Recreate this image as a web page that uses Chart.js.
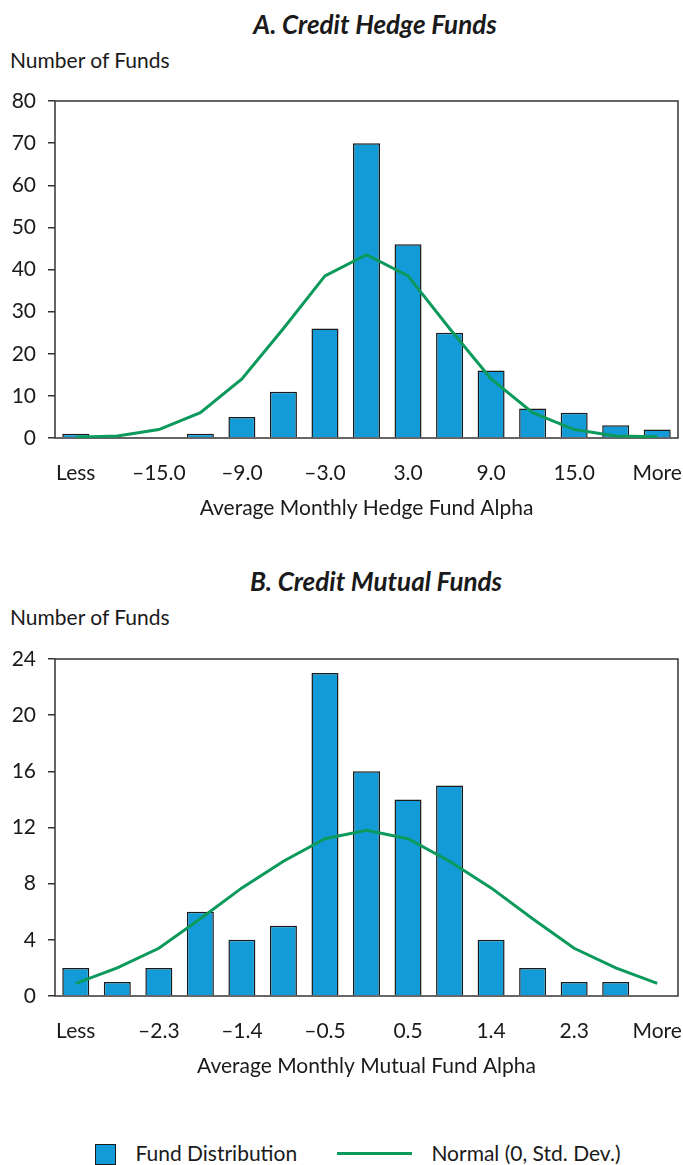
<!DOCTYPE html>
<html>
<head>
<meta charset="utf-8">
<script src="https://cdn.jsdelivr.net/npm/chart.js@4"></script>
<style>
  body { margin: 0; background: #fff; font-family: Lato, sans-serif; color: #1a1a1a; }
  #page { position: relative; width: 683px; height: 1165px; }
  .title { position: absolute; font-size: 26px; font-weight: bold; font-style: italic; transform: translateX(-50%); white-space: nowrap; }
  .ylab { position: absolute; left: 10px; font-size: 21px; white-space: nowrap; }
  canvas { position: absolute; left: 0; }
  .legend { position: absolute; top: 1140px; font-size: 21px; white-space: nowrap; }
</style>
</head>
<body>
<div id="page">
  <div class="title" style="left:375px; top:8px;">A. Credit Hedge Funds</div>
  <div class="ylab" style="top:47px;">Number of Funds</div>
  <canvas id="chartA" width="683" height="450" style="top:80px;"></canvas>

  <div class="title" style="left:376px; top:565px;">B. Credit Mutual Funds</div>
  <div class="ylab" style="top:604px;">Number of Funds</div>
  <canvas id="chartB" width="683" height="450" style="top:638px;"></canvas>

  <div class="legend" style="left:95px;">
    <span style="display:inline-block; width:19px; height:19px; background:#129bd6; border:1.5px solid #1a1a1a; vertical-align:-4px;"></span>
    <span style="margin-left:14px;">Fund Distribution</span>
  </div>
  <div class="legend" style="left:337px;">
    <span style="display:inline-block; width:75px; height:3px; background:#0c9a5c; vertical-align:6px;"></span>
    <span style="margin-left:14px;">Normal (0, Std. Dev.)</span>
  </div>
</div>

<script>
// panel A - credit hedge funds
let hedgeLabels = ["Less", "–18.0", "–15.0", "–12.0", "–9.0", "–6.0", "–3.0", "0.0", "3.0", "6.0", "9.0", "12.0", "15.0", "18.0", "More"];
let hedgeCounts = [1, 0, 0, 1, 5, 11, 26, 70, 46, 25, 16, 7, 6, 3, 2];
let hedgeNormal = [0.2, 0.5, 2, 6, 14, 26, 38.5, 43.5, 38.5, 26, 14, 6, 2, 0.5, 0.3];

// panel B - credit mutual funds
let mutualLabels = ["Less", "–2.8", "–2.3", "–1.8", "–1.4", "–0.9", "–0.5", "0.0", "0.5", "0.9", "1.4", "1.8", "2.3", "2.8", "More"];
let mutualCounts = [2, 1, 2, 6, 4, 5, 23, 16, 14, 15, 4, 2, 1, 1, 0];
let mutualNormal = [0.9, 2.0, 3.4, 5.5, 7.7, 9.6, 11.2, 11.8, 11.2, 9.6, 7.7, 5.5, 3.4, 2.0, 0.9];

let barColor = '#129bd6';
let lineColor = '#0c9a5c';
let inkColor = '#1a1a1a';

Chart.defaults.font.family = 'Lato';
Chart.defaults.font.size = 21;
Chart.defaults.color = inkColor;

// box around the plot area
let framePlugin = {
    id: 'frame',
    beforeDatasetsDraw: function (chart) {
        let a = chart.chartArea;
        let ctx = chart.ctx;
        ctx.save();
        ctx.strokeStyle = '#333';
        ctx.lineWidth = 1.5;
        ctx.strokeRect(a.left, a.top, a.right - a.left, a.bottom - a.top);
        ctx.restore();
    }
};

function makeChart(id, labels, counts, normal, maxY, step, axisTitle) {
    return new Chart(document.getElementById(id), {
        type: 'bar',
        data: {
            labels: labels,
            datasets: [{
                type: 'line',
                label: 'Normal (0, Std. Dev.)',
                data: normal,
                borderColor: lineColor,
                borderWidth: 3,
                pointRadius: 0,
                tension: 0,
                order: 0
            }, {
                label: 'Fund Distribution',
                data: counts,
                backgroundColor: barColor,
                borderColor: inkColor,
                borderWidth: 1.5,
                barPercentage: 0.65,
                categoryPercentage: 1,
                order: 1
            }]
        },
        options: {
            responsive: false,
            animation: false,
            layout: { padding: { top: 21, right: 5, left: 0, bottom: 0 } },
            plugins: { legend: { display: false }, tooltip: { enabled: false } },
            scales: {
                x: {
                    grid: { display: false, drawTicks: false },
                    border: { display: false },
                    ticks: {
                        autoSkip: false,
                        maxRotation: 0,
                        padding: 23,
                        callback: function (v, i) {
                            return i % 2 === 0 ? this.getLabelForValue(v) : '';
                        }
                    },
                    title: { display: true, text: axisTitle, padding: { top: 0, bottom: 9 } },
                    afterFit: function (scale) {
                        scale.height = 92;
                        scale.paddingLeft = 0;
                        scale.paddingRight = 0;
                    }
                },
                y: {
                    min: 0,
                    max: maxY,
                    ticks: { stepSize: step, padding: 12 },
                    grid: { drawOnChartArea: false, tickLength: 7, color: '#333', lineWidth: 1.5 },
                    border: { display: false },
                    afterFit: function (scale) {
                        scale.width = 55;
                        scale.paddingTop = 0;
                        scale.paddingBottom = 0;
                    }
                }
            }
        },
        plugins: [framePlugin]
    });
}

makeChart('chartA', hedgeLabels, hedgeCounts, hedgeNormal, 80, 10, 'Average Monthly Hedge Fund Alpha');
makeChart('chartB', mutualLabels, mutualCounts, mutualNormal, 24, 4, 'Average Monthly Mutual Fund Alpha');
</script>
</body>
</html>
